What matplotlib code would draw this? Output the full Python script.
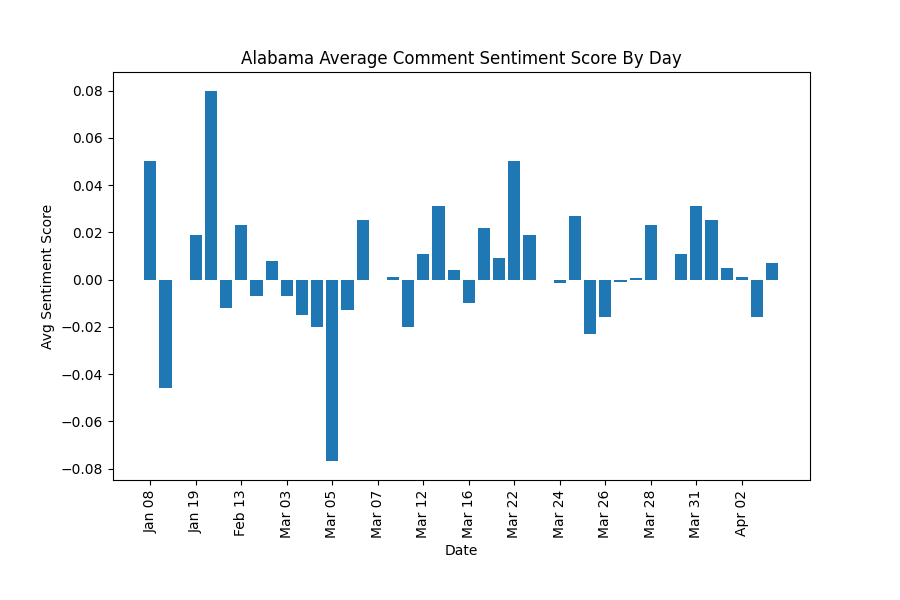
import matplotlib
matplotlib.use("Agg")
import matplotlib.pyplot as plt
import numpy as np

# daily average sentiment, one bar per day with comments
scores = [0.050, -0.046, 0.0, 0.019, 0.080, -0.012, 0.023, -0.007, 0.008,
          -0.007, -0.015, -0.020, -0.077, -0.013, 0.025, 0.0, 0.001, -0.020,
          0.011, 0.031, 0.004, -0.010, 0.022, 0.009, 0.050, 0.019, -0.0003,
          -0.0015, 0.027, -0.023, -0.016, -0.001, 0.0005, 0.023, -0.0003,
          0.011, 0.031, 0.025, 0.005, 0.001, -0.016, 0.007]
tick_labels = ['Jan 08', 'Jan 19', 'Feb 13', 'Mar 03', 'Mar 05', 'Mar 07',
               'Mar 12', 'Mar 16', 'Mar 22', 'Mar 24', 'Mar 26', 'Mar 28',
               'Mar 31', 'Apr 02']

x = np.arange(len(scores))
fig, ax = plt.subplots(figsize=(9, 6), dpi=100)
fig.subplots_adjust(bottom=0.2)
ax.bar(x, scores, color='#1f77b4')
ax.set_xticks(x[::3])
ax.set_xticklabels(tick_labels, rotation=90)
ax.set_title('Alabama Average Comment Sentiment Score By Day')
ax.set_xlabel('Date')
ax.set_ylabel('Avg Sentiment Score')
plt.savefig('out.png')
